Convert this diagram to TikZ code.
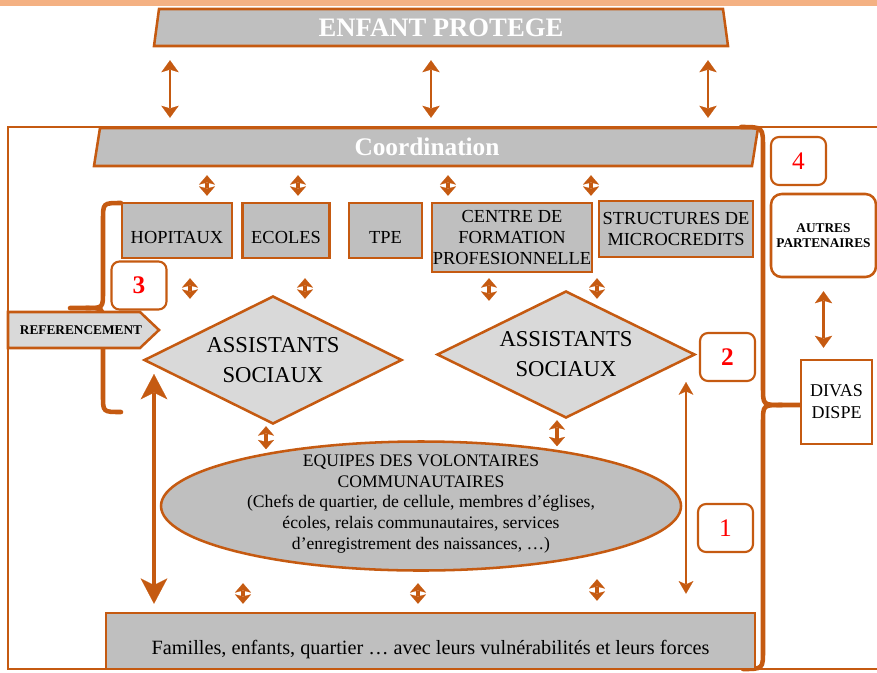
\documentclass[tikz,border=0pt]{standalone}
\usepackage{fontspec}
\setmainfont{Liberation Serif}
\usetikzlibrary{arrows.meta,shapes.geometric}
\definecolor{org}{HTML}{C55A11}
\definecolor{grayA}{HTML}{BFBFBF}
\definecolor{grayB}{HTML}{D9D9D9}
\definecolor{peach}{HTML}{F4B183}
\tikzset{
  frameline/.style={draw=org, line width=1.9pt},
  bracel/.style={draw=org, line width=3.4pt, line cap=round},
  box/.style={draw=org, line width=1.9pt, fill=grayA, inner sep=0pt, align=center,
    font=\fontsize{13.8}{15.75}\selectfont},
  lowtext/.style={text height=20pt, text depth=0pt},
  numbox/.style={draw=org, line width=1.6pt, rounded corners=6pt, fill=white, inner sep=0pt,
    text=red, font=\fontsize{19}{22}\selectfont, minimum width=41.25pt, minimum height=36pt},
  diam/.style={diamond, shape aspect=2, draw=org, line width=1.9pt, fill=grayB, inner sep=0pt,
    align=center, font=\fontsize{17}{22.5}\selectfont, minimum width=193.5pt},
  smarr/.style={draw=org, line width=2.5pt,
    {Stealth[length=7pt,width=12pt,inset=1.5pt,line width=0.1pt]}-{Stealth[length=7pt,width=12pt,inset=1.5pt,line width=0.1pt]}},
  toparr/.style={draw=org, line width=2.2pt,
    {Stealth[length=9pt,width=13pt,inset=2pt,line width=0.1pt]}-{Stealth[length=9pt,width=13pt,inset=2pt,line width=0.1pt]}},
  bigarr/.style={draw=org, line width=3.2pt,
    {Stealth[length=19pt,width=20pt,inset=5pt,line width=0.1pt]}-{Stealth[length=19pt,width=20pt,inset=5pt,line width=0.1pt]}},
  thinarr/.style={draw=org, line width=1.6pt,
    {Stealth[length=9.5pt,width=11pt,inset=2.5pt,line width=0.1pt]}-{Stealth[length=9.5pt,width=11pt,inset=2.5pt,line width=0.1pt]}},
}
\begin{document}
\begin{tikzpicture}[x=0.75pt,y=-0.75pt]
\useasboundingbox (0,0) rectangle (877,672);
\clip (0,0) rectangle (877,672);
\fill[peach] (0,0) rectangle (877,6);

% outer frame
\draw[frameline] (880,127) -- (8,127) -- (8,669) -- (880,669);

% ENFANT PROTEGE
\draw[frameline, fill=grayA] (159,9) -- (723,9) -- (728,46) -- (154,46) -- cycle;
\node[font=\fontsize{20}{24}\selectfont\bfseries, text=white, inner sep=0pt,
  minimum width=426.75pt, minimum height=27.75pt] (enfant) at (441,27.5) {ENFANT PROTEGE};

% Coordination
\draw[frameline, fill=grayA] (100,128) -- (758,128) -- (752,166) -- (94,166) -- cycle;
\node[font=\fontsize{19}{22}\selectfont\bfseries, text=white, inner sep=0pt,
  minimum width=495pt, minimum height=28.5pt] (coord) at (427,147) {Coordination};

% left brace
\draw[bracel] (121,203) .. controls (103,203) .. (103,220) -- (103,292)
  .. controls (103,308) .. (86,308) -- (70,308);
\draw[bracel] (86,308) .. controls (103,308) .. (103,324) -- (103,396)
  .. controls (103,412) .. (121,412);

% right brace
\draw[bracel] (741,127) .. controls (763,127) .. (763,148) -- (763,388)
  .. controls (763,405) .. (782,405) -- (810,405);
\draw[bracel] (782,405) .. controls (763,405) .. (763,422) -- (763,650)
  .. controls (763,669) .. (743,669);

% row of boxes
\node[box, lowtext, minimum width=82.5pt, minimum height=41.25pt] (hop) at (177,230.5) {HOPITAUX};
\node[box, lowtext, minimum width=65.25pt, minimum height=41.25pt] (eco) at (286,230.5) {ECOLES};
\node[box, lowtext, minimum width=54.75pt, minimum height=41.25pt] (tpe) at (385.5,230.5) {TPE};
\node[box, minimum width=120pt, minimum height=51.75pt] (cfp) at (512,237.5) {CENTRE DE\\FORMATION\\PROFESIONNELLE};
\node[box, minimum width=115.5pt, minimum height=42pt] (smc) at (676,229) {STRUCTURES DE\\MICROCREDITS};

% numbers
\node[numbox, font=\fontsize{19}{22}\selectfont\bfseries] (n3) at (139,285.5) {3};
\node[numbox, font=\fontsize{19}{22}\selectfont\bfseries] (n2) at (727.5,357) {2};
\node[numbox] (n4) at (798.5,161) {4};
\node[numbox] (n1) at (725.5,528) {1};

% referencement
\draw[frameline, fill=grayB] (8,312) -- (140,312) -- (159,330) -- (140,348) -- (8,348) -- cycle;
\node[font=\fontsize{10}{12}\selectfont\bfseries, inner sep=0pt] (ref) at (81,330) {REFERENCEMENT};

% diamonds
\node[diam, minimum height=96pt] (dl) at (273,360) {ASSISTANTS\\SOCIAUX};
\node[diam, minimum height=95.25pt] (dr) at (566,354.5) {ASSISTANTS\\SOCIAUX};

% ellipse
\node[ellipse, draw=org, line width=1.9pt, fill=grayA, inner sep=0pt,
  minimum width=390pt, minimum height=96.75pt] (eq) at (421,506) {};
\node[align=center, font=\fontsize{13.2}{15.5}\selectfont, inner sep=0pt] (eqt) at (421,504)
  {EQUIPES DES VOLONTAIRES\\COMMUNAUTAIRES\\(Chefs de quartier, de cellule, membres d’églises,\\écoles, relais communautaires, services\\d’enregistrement des naissances, …)};

% bottom box
\node[box, lowtext, font=\fontsize{15.2}{17}\selectfont, minimum width=486.75pt, minimum height=42pt] (fam) at (430.5,641)
  {Familles, enfants, quartier … avec leurs vulnérabilités et leurs forces};

% right partners
\node[draw=org, line width=1.9pt, rounded corners=8pt, fill=white, inner sep=0pt, align=center,
  font=\fontsize{10}{11.25}\selectfont\bfseries, minimum width=78.75pt, minimum height=62.25pt]
  (autres) at (823.5,235.5) {AUTRES\\PARTENAIRES};
\node[draw=org, line width=1.9pt, fill=white, inner sep=0pt, align=center,
  font=\fontsize{13.5}{16.5}\selectfont, minimum width=53.25pt, minimum height=63pt]
  (divas) at (836.5,402) {DIVAS\\DISPE};

% arrows: enfant -> coordination
\draw[toparr, shorten <=10.5pt, shorten >=7.5pt] (170,0 |- enfant.south) -- (170,0 |- coord.north);
\draw[toparr, shorten <=10.5pt, shorten >=7.5pt] (431,0 |- enfant.south) -- (431,0 |- coord.north);
\draw[toparr, shorten <=10.5pt, shorten >=7.5pt] (708,0 |- enfant.south) -- (708,0 |- coord.north);

% coordination -> boxes
\draw[smarr, shorten <=6.75pt, shorten >=4.5pt] (207,0 |- coord.south) -- (207,0 |- hop.north);
\draw[smarr, shorten <=6.75pt, shorten >=4.5pt] (298,0 |- coord.south) -- (298,0 |- eco.north);
\draw[smarr, shorten <=6.75pt, shorten >=4.5pt] (448,0 |- coord.south) -- (448,0 |- cfp.north);
\draw[smarr, shorten <=6.75pt, shorten >=3pt] (591,0 |- coord.south) -- (591,0 |- smc.north);

% boxes -> diamonds
\draw[smarr, shorten <=14.25pt, shorten >=-3pt] (190,0 |- hop.south) -- (190,0 |- dl.north);
\draw[smarr, shorten <=14.25pt, shorten >=-3pt] (305,0 |- eco.south) -- (305,0 |- dl.north);
\draw[smarr, shorten <=3.75pt, shorten >=-8.25pt] (489,0 |- cfp.south) -- (489,0 |- dr.north);
\draw[smarr, shorten <=15pt, shorten >=-6.75pt] (597,0 |- smc.south) -- (597,0 |- dr.north);

% diamonds -> ellipse
\draw[smarr, shorten <=0.75pt, shorten >=-6.75pt] (266,0 |- dl.south) -- (266,0 |- eq.north);
\draw[smarr, shorten <=0.75pt, shorten >=-4.5pt] (557,0 |- dr.south) -- (557,0 |- eq.north);

% ellipse -> families
\draw[smarr, shorten <=8.6pt, shorten >=6pt] (243,0 |- eq.south) -- (243,0 |- fam.north);
\draw[smarr, shorten <=8.6pt, shorten >=6pt] (418,0 |- eq.south) -- (418,0 |- fam.north);
\draw[smarr, shorten <=5.6pt, shorten >=8.25pt] (597,0 |- eq.south) -- (597,0 |- fam.north);

% long arrows
\draw[bigarr, shorten <=10.5pt, shorten >=6pt] (154,0 |- dl.west) -- (154,0 |- fam.north);
\draw[thinarr, shorten <=0pt, shorten >=13.5pt] (686,0 |- n2.south) -- (686,0 |- fam.north);

% autres <-> divas
\draw[toparr, line width=2.4pt, shorten <=9.75pt, shorten >=8.25pt] (autres.south) -- (autres.south |- divas.north);
\end{tikzpicture}
\end{document}
